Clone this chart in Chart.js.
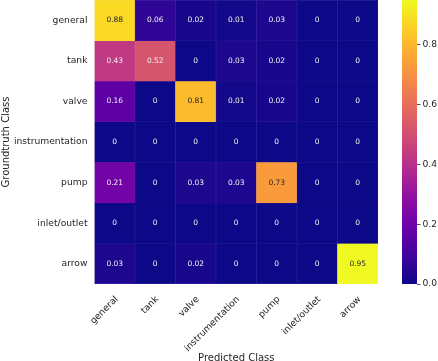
<!DOCTYPE html>
<html>
<head>
<meta charset="utf-8">
<script src="https://cdn.jsdelivr.net/npm/chart.js@4/dist/chart.umd.min.js"></script>
<style>
  html, body { margin: 0; padding: 0; background: #fff; }
  #wrap { position: relative; width: 438px; height: 361px; overflow: hidden; }
  #matrix { position: absolute; left: 0; top: 0; }
  #colorbar { position: absolute; left: 395px; top: 0; }
</style>
</head>
<body>
<div id="wrap">
  <canvas id="matrix" width="395" height="361"></canvas>
  <canvas id="colorbar" width="43" height="361"></canvas>
</div>
<script>
// groundtruth rows, top to bottom
const rowClasses = ['general', 'tank', 'valve', 'instrumentation', 'pump', 'inlet/outlet', 'arrow']
// predicted columns, left to right
const colClasses = ['general', 'tank', 'valve', 'instrumentation', 'pump', 'inlet/outlet', 'arrow']

const rowGeneral = [0.88, 0.06, 0.02, 0.01, 0.03, 0, 0]
const rowTank = [0.43, 0.52, 0, 0.03, 0.02, 0, 0]
const rowValve = [0.16, 0, 0.81, 0.01, 0.02, 0, 0]
const rowInstrumentation = [0, 0, 0, 0, 0, 0, 0]
const rowPump = [0.21, 0, 0.03, 0.03, 0.73, 0, 0]
const rowInletOutlet = [0, 0, 0, 0, 0, 0, 0]
const rowArrow = [0.03, 0, 0.02, 0, 0, 0, 0.95]

const matrix = [rowGeneral, rowTank, rowValve, rowInstrumentation, rowPump, rowInletOutlet, rowArrow]

const colorbarTicks = [0, 0.2, 0.4, 0.6, 0.8]
const vmax = 0.95

// plasma colormap, sampled every 0.1
const plasma = ['#0d0887', '#41049d', '#6a00a8', '#8f0da4', '#b12a90', '#cc4778',
  '#e16462', '#f2844b', '#fca636', '#fcce25', '#f0f921']

const hexToRgb = h => [1, 3, 5].map(i => parseInt(h.slice(i, i + 2), 16))

// lighten = how much white to mix in (for the faint cell edges)
const plasmaColor = (t, lighten = 0) => {
  t = Math.max(0, Math.min(1, t)) * 10
  const i = Math.min(9, Math.floor(t))
  const f = t - i
  const a = hexToRgb(plasma[i]), b = hexToRgb(plasma[i + 1])
  const c = a.map((v, k) => {
    const x = v + (b[k] - v) * f
    return Math.round(x + (255 - x) * lighten)
  })
  return `rgb(${c[0]}, ${c[1]}, ${c[2]})`
}

Chart.defaults.font.family = '"DejaVu Sans", sans-serif'
Chart.defaults.color = '#262626'

const cellLabels = {
  id: 'cellLabels',
  afterDatasetsDraw (chart) {
    const ctx = chart.ctx
    ctx.save()
    ctx.font = '7.5px "DejaVu Sans"'
    ctx.textAlign = 'center'
    ctx.textBaseline = 'middle'
    chart.data.datasets.forEach((ds, r) => {
      chart.getDatasetMeta(r).data.forEach((bar, c) => {
        const v = matrix[r][c]
        ctx.fillStyle = v > 0.6 ? '#262626' : '#f2f2f2'
        ctx.fillText(String(v), bar.x, (bar.y + bar.base) / 2)
      })
    })
    ctx.restore()
  }
}

new Chart(document.getElementById('matrix'), {
  type: 'bar',
  data: {
    labels: colClasses,
    datasets: matrix.map((row, r) => ({
      label: rowClasses[r],
      data: row.map(() => [r, r + 1]),
      backgroundColor: row.map(v => plasmaColor(v / vmax)),
      borderColor: row.map(v => plasmaColor(v / vmax, 0.08)),
      borderWidth: 0.5,
      borderSkipped: false,
      grouped: false,
      barPercentage: 1,
      categoryPercentage: 1,
    }))
  },
  options: {
    responsive: false,
    devicePixelRatio: 1,
    animation: false,
    layout: { padding: { top: 0, right: 17, bottom: 0, left: 0 } },
    plugins: { legend: { display: false }, tooltip: { enabled: false } },
    scales: {
      x: {
        grid: { display: false, drawTicks: false },
        border: { display: false },
        ticks: {
          font: { size: 9.2 },
          minRotation: 45,
          maxRotation: 45,
          autoSkip: false,
          padding: 10,
          labelOffset: 2,
        },
        title: {
          display: true,
          text: 'Predicted Class',
          font: { size: 10 },
          padding: { top: 0, bottom: -3 },
        },
        afterFit (scale) {
          scale.height = 77
          scale.paddingLeft = 0
          scale.paddingRight = 0
        }
      },
      y: {
        type: 'linear',
        min: 0,
        max: rowClasses.length,
        reverse: true,
        grid: { display: false, drawTicks: false },
        border: { display: false },
        afterBuildTicks (scale) {
          scale.ticks = rowClasses.map((_, i) => ({ value: i + 0.5 }))
        },
        ticks: {
          font: { size: 9.2 },
          padding: 7,
          callback: (v, i) => rowClasses[i],
        },
        title: {
          display: true,
          text: 'Groundtruth Class',
          font: { size: 10 },
          padding: { top: 0, bottom: 0 },
        },
        afterFit (scale) {
          scale.width = 94.5
          scale.paddingTop = 0
          scale.paddingBottom = 0
        }
      }
    }
  },
  plugins: [cellLabels]
})

// colorbar
new Chart(document.getElementById('colorbar'), {
  type: 'bar',
  data: {
    labels: [''],
    datasets: [{
      data: [[0, vmax]],
      backgroundColor: ctx => {
        const area = ctx.chart.chartArea
        if (!area) return plasma[0]
        const g = ctx.chart.ctx.createLinearGradient(0, area.bottom, 0, area.top)
        plasma.forEach((c, i) => g.addColorStop(i / 10, c))
        return g
      },
      borderWidth: 0,
      barPercentage: 1,
      categoryPercentage: 1,
    }]
  },
  options: {
    responsive: false,
    devicePixelRatio: 1,
    animation: false,
    layout: { padding: { top: 0, right: 0, bottom: 77, left: 7 } },
    plugins: { legend: { display: false }, tooltip: { enabled: false } },
    scales: {
      x: { display: false },
      y: {
        position: 'right',
        min: 0,
        max: vmax,
        grid: { display: true, drawOnChartArea: false, tickLength: 3.5, color: '#262626', lineWidth: 0.8 },
        border: { display: false },
        afterBuildTicks (scale) {
          scale.ticks = colorbarTicks.map(v => ({ value: v }))
        },
        ticks: {
          font: { size: 9.2 },
          padding: 2,
          callback: v => v.toFixed(1),
        },
        afterFit (scale) {
          scale.width = 21
          scale.paddingTop = 0
          scale.paddingBottom = 0
        }
      }
    }
  }
})
</script>
</body>
</html>
